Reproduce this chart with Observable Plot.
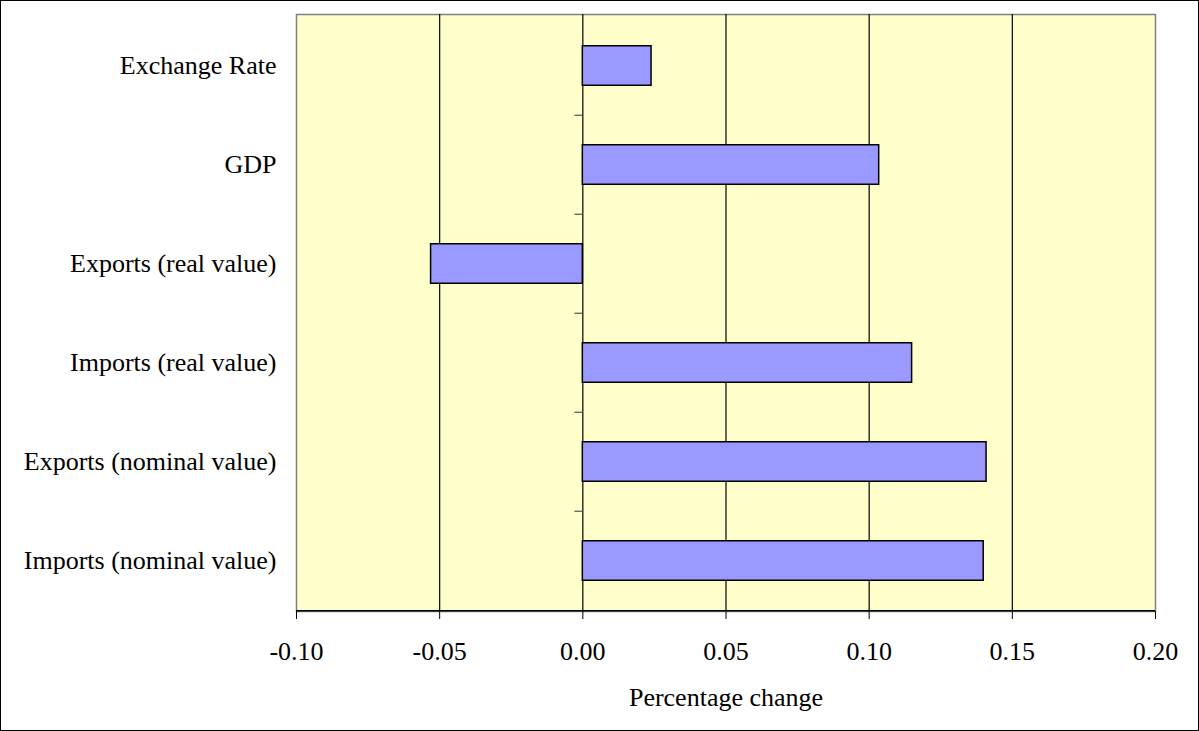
<!DOCTYPE html>
<html><head><meta charset="utf-8">
<script src="https://cdn.jsdelivr.net/npm/d3@7"></script>
<script src="https://cdn.jsdelivr.net/npm/@observablehq/plot@0.6"></script>
<style>
html,body{margin:0;padding:0;background:#fff}
#chart{width:1197px;height:729px;border:1px solid #000;background:#fff;overflow:hidden}
#chart svg{display:block}
</style></head><body><div id="chart"></div>
<script>
const categories = ["Exchange Rate","GDP","Exports (real value)","Imports (real value)","Exports (nominal value)","Imports (nominal value)"];
const values = [0.024, 0.1035, -0.053, 0.115, 0.141, 0.140];
const xTicks = [-0.10,-0.05,0.00,0.05,0.10,0.15,0.20];
const gridTicks = [-0.05,0.05,0.10,0.15];
const xDomain = [-0.10, 0.20];
const axisTitle = "Percentage change";

const data = categories.map((c,i)=>({category:c, value:values[i]}));

const W=1197, H=729, mT=13, mB=119, mL=295, mR=43;
const step = (H-mT-mB)/categories.length;
const barH = 40;
const inset = (step-barH)/2;
const pxPerUnit = (W-mL-mR)/(xDomain[1]-xDomain[0]);
const tickLen = 8/pxPerUnit;
const font = "'Liberation Serif','Times New Roman',serif";

const chart = Plot.plot({
  width: W, height: H,
  marginTop: mT, marginBottom: mB, marginLeft: mL, marginRight: mR,
  style: {fontFamily: font, fontSize: "26px", color: "#000", background: "transparent"},
  x: {domain: xDomain},
  y: {domain: categories, padding: 0},
  marks: [
    Plot.frame({fill: "#ffffcc", stroke: "#808080", strokeWidth: 1.5}),
    Plot.ruleX(gridTicks, {stroke: "#000", strokeWidth: 1.2}),
    Plot.ruleX([0], {stroke: "#000", strokeWidth: 1.2}),
    Plot.barX(data, {x: "value", y: "category", fill: "#9999ff", stroke: "#000", strokeWidth: 1.5, insetTop: inset, insetBottom: inset}),
    Plot.ruleY(categories.slice(1), {y: d=>d, x1: 0, x2: -tickLen, dy: -step/2, stroke: "#555", strokeWidth: 1.2}),
    Plot.ruleY(categories.slice(-1), {y: d=>d, x1: xDomain[0], x2: xDomain[1], dy: step/2, stroke: "#000", strokeWidth: 1.5}),
    Plot.axisY({tickSize: 0, tickPadding: 20, label: null, fontSize: 26}),
    Plot.axisX({ticks: xTicks, tickFormat: d => d.toFixed(2), tickSize: 8, tickPadding: 22, label: null, fontSize: 26, stroke: "#000"}),
    Plot.text([axisTitle], {text: d=>d, frameAnchor: "bottom", dy: 86, lineAnchor: "middle", fontSize: 26, fill: "#000"})
  ]
});
document.getElementById("chart").appendChild(chart);
</script>
</body></html>
